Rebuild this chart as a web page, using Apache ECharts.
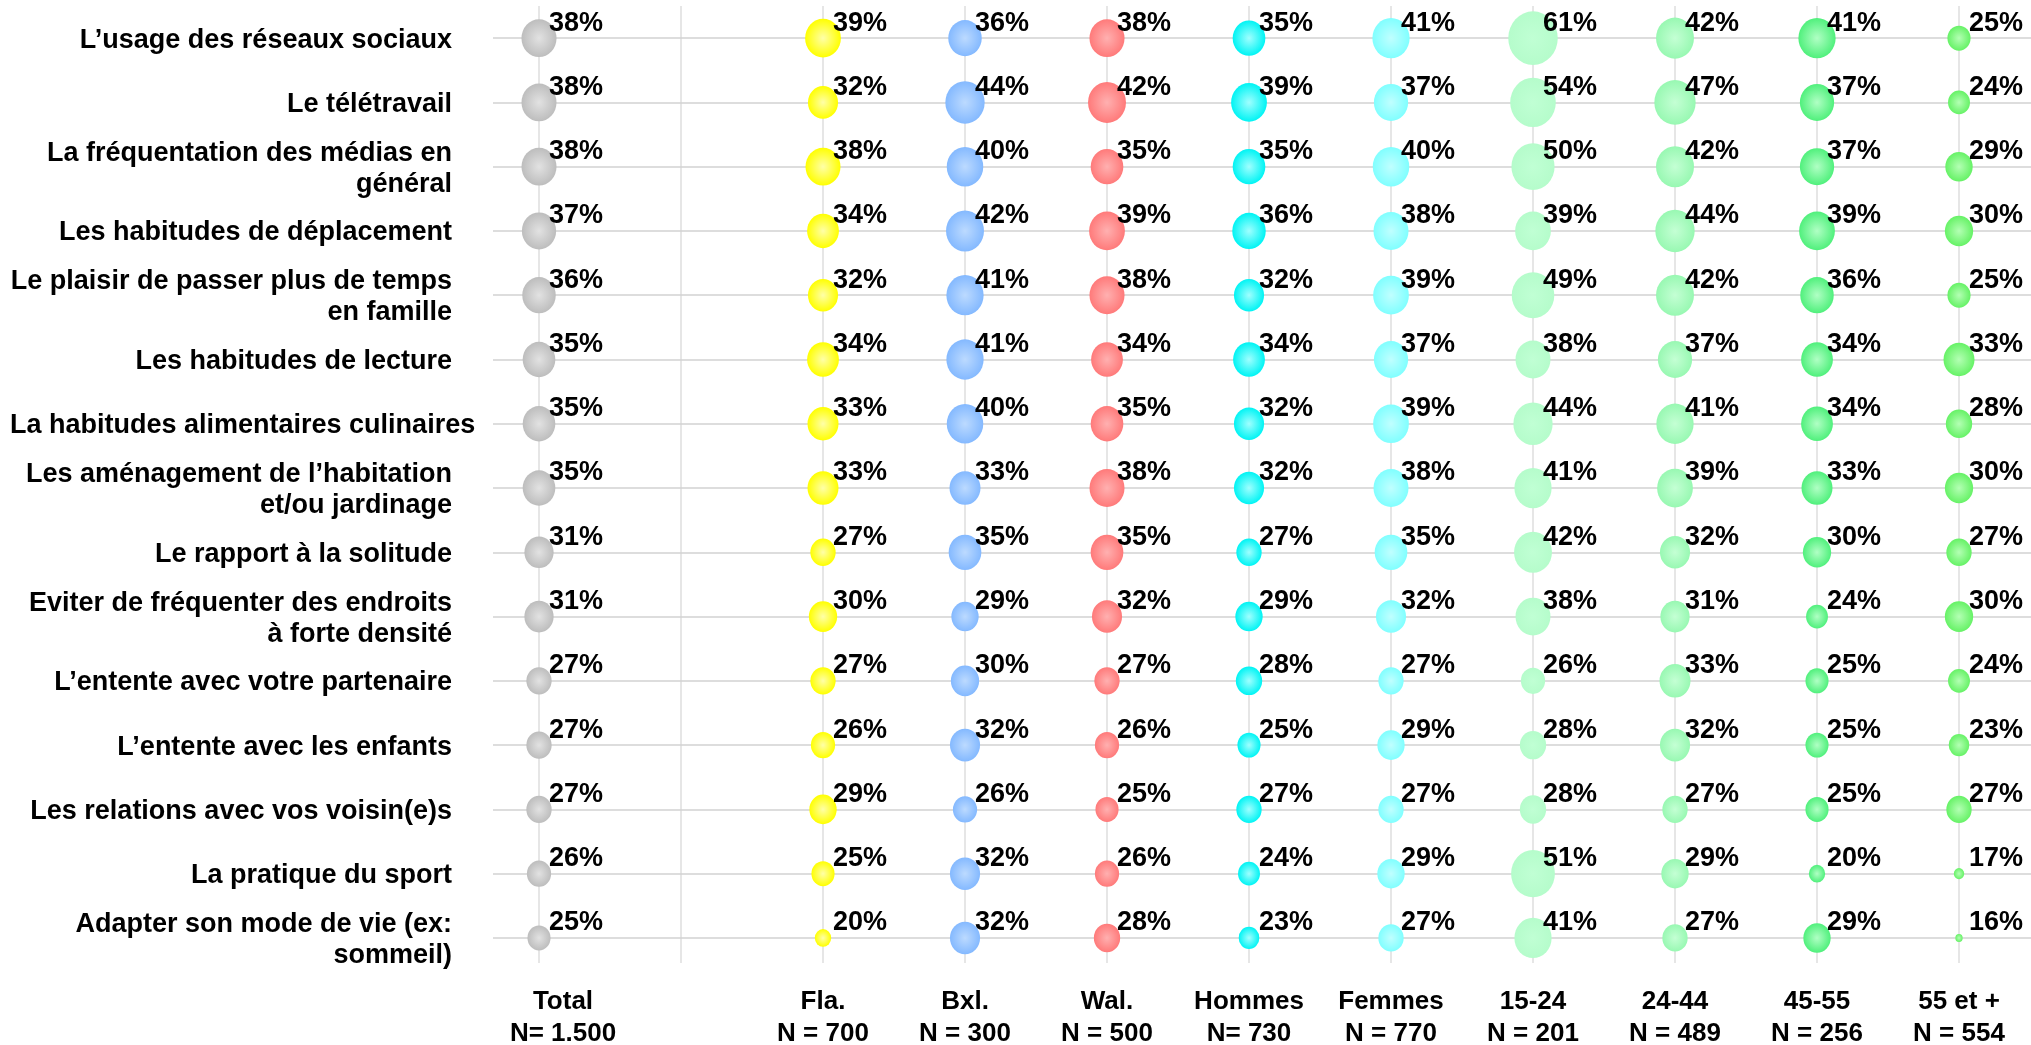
<!DOCTYPE html>
<html><head><meta charset="utf-8">
<script src="https://cdn.jsdelivr.net/npm/echarts@6/dist/echarts.min.js"></script>
<style>html,body{margin:0;padding:0;background:#fff}#c{width:2031px;height:1045px}</style>
</head><body><div id="c"></div>
<script>
const categories = [
  'L’usage des réseaux sociaux',
  'Le télétravail',
  'La fréquentation des médias en\ngénéral',
  'Les habitudes de déplacement',
  'Le plaisir de passer plus de temps\nen famille',
  'Les habitudes de lecture',
  'La habitudes alimentaires culinaires',
  'Les aménagement de l’habitation\net/ou jardinage',
  'Le rapport à la solitude',
  'Eviter de fréquenter des endroits\nà forte densité',
  'L’entente avec votre partenaire',
  'L’entente avec les enfants',
  'Les relations avec vos voisin(e)s',
  'La pratique du sport',
  'Adapter son mode de vie (ex:\nsommeil)'
];
const groups  = ['Total', '', 'Fla.', 'Bxl.', 'Wal.', 'Hommes', 'Femmes', '15-24', '24-44', '45-55', '55 et +'];
const groupN  = ['N= 1.500', '', 'N = 700', 'N = 300', 'N = 500', 'N= 730', 'N = 770', 'N = 201', 'N = 489', 'N = 256', 'N = 554'];

const total     = [38, 38, 38, 37, 36, 35, 35, 35, 31, 31, 27, 27, 27, 26, 25];
const fla       = [39, 32, 38, 34, 32, 34, 33, 33, 27, 30, 27, 26, 29, 25, 20];
const bxl       = [36, 44, 40, 42, 41, 41, 40, 33, 35, 29, 30, 32, 26, 32, 32];
const wal       = [38, 42, 35, 39, 38, 34, 35, 38, 35, 32, 27, 26, 25, 26, 28];
const hommes    = [35, 39, 35, 36, 32, 34, 32, 32, 27, 29, 28, 25, 27, 24, 23];
const femmes    = [41, 37, 40, 38, 39, 37, 39, 38, 35, 32, 27, 29, 27, 29, 27];
const age1524   = [61, 54, 50, 39, 49, 38, 44, 41, 42, 38, 26, 28, 28, 51, 41];
const age2444   = [42, 47, 42, 44, 42, 37, 41, 39, 32, 31, 33, 32, 27, 29, 27];
const age4555   = [41, 37, 37, 39, 36, 34, 34, 33, 30, 24, 25, 25, 25, 20, 29];
const age55plus = [25, 24, 29, 30, 25, 33, 28, 30, 27, 30, 24, 23, 27, 17, 16];

const columns = [
  {col: 0,  values: total,     base: '#bdbdbd', light: '#e2e2e2'},
  {col: 2,  values: fla,       base: '#ffff00', light: '#ffffa8'},
  {col: 3,  values: bxl,       base: '#84b9ff', light: '#bcdaff'},
  {col: 4,  values: wal,       base: '#ff7a7a', light: '#ffb0b0'},
  {col: 5,  values: hommes,    base: '#00f4f4', light: '#a0ffff'},
  {col: 6,  values: femmes,    base: '#80ffff', light: '#c0ffff'},
  {col: 7,  values: age1524,   base: '#b5fccb', light: '#c0ffd4'},
  {col: 8,  values: age2444,   base: '#98f8b2', light: '#c4ffd4'},
  {col: 9,  values: age4555,   base: '#50f07c', light: '#b0ffc4'},
  {col: 10, values: age55plus, base: '#66f266', light: '#b4ffb4'}
];

const FONT = '"Liberation Sans", Arial, sans-serif';

const series = columns.map(c => ({
  type: 'scatter',
  z: 5,
  data: c.values.map((v, i) => [c.col, i, v]),
  symbol: 'circle',
  symbolSize: d => { const s = Math.sqrt(Math.max(d[2] - 15, 0.3)); return [7.3 * s, 7.9 * s]; },
  itemStyle: {
    opacity: 1,
    color: {type: 'radial', x: 0.5, y: 0.5, r: 0.5,
      colorStops: [{offset: 0, color: c.light}, {offset: 1, color: c.base}]}
  },
  label: {
    show: true, position: 'inside', align: 'left', verticalAlign: 'middle',
    offset: [10, -15],
    formatter: p => p.value[2] + '%',
    color: '#000', fontSize: 27, fontWeight: 'bold', fontFamily: FONT
  },
  emphasis: {disabled: true}
}));

series.unshift({
  type: 'scatter', z: 1, data: [], silent: true,
  markLine: {
    silent: true, symbol: 'none', animation: false,
    label: {show: false},
    data: [
      ...groups.map((g, i) => ({xAxis: i, lineStyle: {color: '#e6e6e6', width: 2, type: 'solid'}})),
      ...categories.map((c, i) => ({yAxis: i, lineStyle: {color: '#d2d2d2', width: 1.5, type: 'solid'}}))
    ]
  }
});

const labelStyle = {color: '#000', fontSize: 27, fontWeight: 'bold', lineHeight: 31, fontFamily: FONT};

const chart = echarts.init(document.getElementById('c'));
chart.setOption({
  animation: false,
  backgroundColor: '#fff',
  grid: {left: 493, right: 0, top: 6, bottom: 82, containLabel: false, outerBoundsMode: 'none'},
  xAxis: {
    type: 'value', min: -0.324, max: 10.507,
    axisLine: {show: false}, axisTick: {show: false}, splitLine: {show: false},
    axisLabel: {
      customValues: groups.map((g, i) => i).filter(i => groups[i] !== ''),
      margin: 23, hideOverlap: false,
      formatter: v => {
        const i = Math.round(v);
        if (i === 0) return '{t|' + groups[i] + '}\n{t|' + groupN[i] + '}';
        return groups[i] + '\n' + groupN[i];
      },
      rich: {t: {padding: [0, 0, 0, 48], fontSize: 26, fontWeight: 'bold', lineHeight: 32, color: '#000', fontFamily: FONT}},
      color: '#000', fontSize: 26, fontWeight: 'bold', lineHeight: 32, fontFamily: FONT
    }
  },
  yAxis: {
    type: 'value', inverse: true, min: -0.5, max: 14.39,
    axisLine: {show: false}, axisTick: {show: false}, splitLine: {show: false},
    axisLabel: {
      customValues: categories.map((c, i) => i),
      hideOverlap: false,
      formatter: v => {
        const t = categories[Math.round(v)];
        return t === 'La habitudes alimentaires culinaires' ? '{o|' + t + '}' : t;
      },
      rich: {o: Object.assign({width: 442, align: 'left'}, labelStyle)},
      margin: 41, align: 'right', padding: [4, 0, 0, 0],
      ...labelStyle
    }
  },
  series: series
});
</script>
</body></html>
